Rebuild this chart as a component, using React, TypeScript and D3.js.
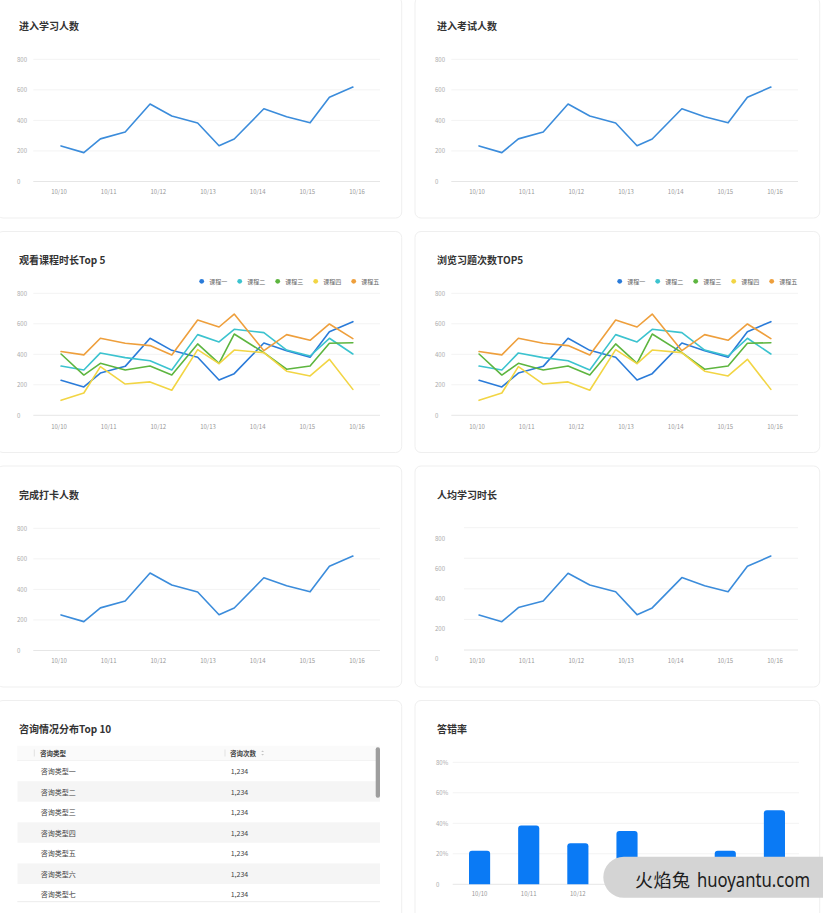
import React from 'react';
import * as d3 from 'd3';

// ---------- data ----------
const pointTimes = [
  '2019-10-10 01:00', '2019-10-10 12:00', '2019-10-10 20:00', '2019-10-11 08:00',
  '2019-10-11 20:00', '2019-10-12 06:30', '2019-10-12 19:00', '2019-10-13 05:20',
  '2019-10-13 12:40', '2019-10-14 03:00', '2019-10-14 14:00', '2019-10-15 01:20',
  '2019-10-15 10:40', '2019-10-15 22:00',
];
const dayTicks = ['2019-10-10', '2019-10-11', '2019-10-12', '2019-10-13', '2019-10-14', '2019-10-15', '2019-10-16'];
const dayLabels = ['10/10', '10/11', '10/12', '10/13', '10/14', '10/15', '10/16'];
const countTicks = [0, 200, 400, 600, 800];
const rateTicks = [0, 20, 40, 60, 80];

const enterStudy = [233, 189, 279, 324, 507, 429, 383, 234, 278, 476, 424, 384, 552, 618];
const enterExam = [233, 189, 279, 324, 507, 429, 383, 234, 278, 476, 424, 384, 552, 618];
const checkIn = [233, 189, 279, 324, 507, 429, 383, 234, 278, 476, 424, 384, 552, 618];
const perCapita = [289, 244, 338, 382, 567, 489, 444, 291, 336, 538, 484, 444, 613, 682];

const courseNames = ['课程一', '课程二', '课程三', '课程四', '课程五'];
const courseColors = ['#2a7bd9', '#3cc3cf', '#5db53f', '#f2d544', '#ee9f3c'];
const course1 = [230, 186, 277, 321, 505, 426, 381, 231, 273, 474, 424, 381, 548, 614];
const course2 = [323, 297, 409, 378, 358, 297, 529, 481, 564, 542, 428, 389, 505, 402];
const course3 = [402, 264, 341, 297, 323, 264, 468, 341, 533, 411, 302, 323, 472, 476];
const course4 = [98, 146, 319, 205, 219, 164, 431, 339, 428, 411, 289, 258, 367, 170];
const course5 = [418, 396, 505, 472, 457, 396, 625, 579, 664, 424, 529, 492, 599, 503];
const courseSeries = [course1, course2, course3, course4, course5];

const errorRates = [22, 38.5, 27, 35, 15, 22, 48.5];

const consultTypes = ['咨询类型一', '咨询类型二', '咨询类型三', '咨询类型四', '咨询类型五', '咨询类型六', '咨询类型七'];
const consultCounts = [1234, 1234, 1234, 1234, 1234, 1234, 1234];

// ---------- layout ----------
const W = 823;
const H = 913;
const COL_STEP = 418;
const ROW_STEP = 234.5;
const FONT = '"Noto Sans CJK SC", "Noto Sans", sans-serif';
const parseTime = d3.timeParse('%Y-%m-%d %H:%M');
const parseDay = d3.timeParse('%Y-%m-%d');
const times = pointTimes.map((t) => parseTime(t) as Date);
const days = dayTicks.map((t) => parseDay(t) as Date);

function Card() {
  return <rect x={-3} y={-3} width={404.7} height={221} rx={6} fill="#fff" stroke="#efefef" strokeWidth={1} />;
}

function Title({ text }: { text: string }) {
  return (
    <text x={19} y={25} dominantBaseline="central" fontSize={10} fontWeight={600} fill="#333" fontFamily={FONT}>
      {text}
    </text>
  );
}

type Series = { name: string; color: string; values: number[] };

function LinePanel(props: {
  col: number; row: number; title: string; series: Series[]; legend?: boolean;
  yRange: [number, number]; gridRange: [number, number]; gridX0: number;
}) {
  const { col, row, title, series, legend, yRange, gridRange, gridX0 } = props;
  const x = d3.scaleTime().domain([days[0], days[6]]).range([59, 357]);
  const y = d3.scaleLinear().domain([0, 800]).range(yRange);
  const yg = d3.scaleLinear().domain([0, 800]).range(gridRange);
  const line = d3.line<number>().x((_, i) => x(times[i])).y((d) => y(d));
  return (
    <g transform={`translate(${col * COL_STEP},${row * ROW_STEP})`}>
      <Card />
      <Title text={title} />
      {countTicks.map((t) => (
        <line key={'g' + t} x1={gridX0} x2={380} y1={yg(t)} y2={yg(t)} stroke={t === 0 ? '#e6e6e6' : '#f3f3f3'} strokeWidth={1} />
      ))}
      {countTicks.map((t) => (
        <text key={'y' + t} x={17} y={y(t)} dominantBaseline="central" fontSize={6} fill="#aaa" fontFamily={FONT}>
          {t}
        </text>
      ))}
      {days.map((d, i) => (
        <text key={'x' + i} x={x(d)} y={191.5} textAnchor="middle" dominantBaseline="central" fontSize={6} fill="#999" fontFamily={FONT}>
          {dayLabels[i]}
        </text>
      ))}
      {series.map((s) => (
        <path key={s.name} d={line(s.values) || ''} fill="none" stroke={s.color} strokeWidth={1.6} strokeLinejoin="round" strokeLinecap="round" />
      ))}
      {legend &&
        series.map((s, i) => (
          <g key={'l' + i} transform={`translate(${201.7 + i * 38},46.8)`}>
            <circle r={2.4} fill={s.color} />
            <text x={7.5} y={0} dominantBaseline="central" fontSize={6} fill="#666" fontFamily={FONT}>
              {s.name}
            </text>
          </g>
        ))}
    </g>
  );
}

function TablePanel({ col, row }: { col: number; row: number }) {
  const rowTop = 57.2;
  const rowH = 20.55;
  const fmt = d3.format(',');
  return (
    <g transform={`translate(${col * COL_STEP},${row * ROW_STEP})`}>
      <Card />
      <Title text="咨询情况分布Top 10" />
      <defs>
        <clipPath id="tbody-clip">
          <rect x={17.3} y={rowTop} width={362.7} height={198.2 - rowTop} />
        </clipPath>
      </defs>
      <rect x={17.3} y={42.2} width={362.7} height={rowTop - 42.2} fill="#fafafa" />
      <line x1={17.3} x2={380} y1={rowTop} y2={rowTop} stroke="#efefef" />
      <line x1={34.3} x2={34.3} y1={46} y2={53} stroke="#e2e2e2" />
      <line x1={225} x2={225} y1={46} y2={53} stroke="#e2e2e2" />
      <text x={40} y={49.5} dominantBaseline="central" fontSize={6.5} fontWeight={600} fill="#444" fontFamily={FONT}>咨询类型</text>
      <text x={230} y={49.5} dominantBaseline="central" fontSize={6.5} fontWeight={600} fill="#444" fontFamily={FONT}>咨询次数</text>
      <path d="M261.2,48.6 L262.6,47 L264,48.6 Z M261.2,50.4 L262.6,52 L264,50.4 Z" fill="#c4c4c4" />
      <g clipPath="url(#tbody-clip)">
        {consultTypes.map((t, i) => (
          <g key={t}>
            <rect x={17.3} y={rowTop + i * rowH} width={362.7} height={rowH} fill={i % 2 === 1 ? '#f5f5f5' : '#fff'} />
            <text x={40.7} y={rowTop + i * rowH + rowH / 2} dominantBaseline="central" fontSize={7} fill="#444" fontFamily={FONT}>{t}</text>
            <text x={230.7} y={rowTop + i * rowH + rowH / 2} dominantBaseline="central" fontSize={7} fill="#444" fontFamily={FONT}>{fmt(consultCounts[i])}</text>
          </g>
        ))}
      </g>
      <line x1={17.3} x2={380} y1={198.2} y2={198.2} stroke="#ececec" />
      <rect x={375.7} y={43.8} width={4.3} height={50.4} rx={2} fill="#9e9e9e" />
    </g>
  );
}

function BarPanel({ col, row }: { col: number; row: number }) {
  const x = d3.scaleBand<string>().domain(dayLabels).range([37, 381]).paddingInner(0.57).paddingOuter(0.285);
  const y = d3.scaleLinear().domain([0, 80]).range([180.8, 58.8]);
  const r = 3;
  return (
    <g transform={`translate(${col * COL_STEP},${row * ROW_STEP})`}>
      <Card />
      <Title text="答错率" />
      {rateTicks.map((t) => (
        <line key={'g' + t} x1={34.7} x2={381} y1={y(t)} y2={y(t)} stroke={t === 0 ? '#e6e6e6' : '#f3f3f3'} />
      ))}
      {rateTicks.map((t) => (
        <text key={'y' + t} x={18} y={y(t)} dominantBaseline="central" fontSize={6} fill="#aaa" fontFamily={FONT}>
          {t === 0 ? '0' : t + '%'}
        </text>
      ))}
      {dayLabels.map((d) => (
        <text key={'x' + d} x={(x(d) as number) + x.bandwidth() / 2} y={189.8} textAnchor="middle" dominantBaseline="central" fontSize={6} fill="#999" fontFamily={FONT}>
          {d}
        </text>
      ))}
      {errorRates.map((v, i) => {
        const x0 = x(dayLabels[i]) as number;
        const w = x.bandwidth();
        const yt = y(v);
        const yb = y(0);
        const d = `M${x0},${yb} V${yt + r} Q${x0},${yt} ${x0 + r},${yt} H${x0 + w - r} Q${x0 + w},${yt} ${x0 + w},${yt + r} V${yb} Z`;
        return <path key={i} d={d} fill="#0a7af5" />;
      })}
    </g>
  );
}

export default function App() {
  React.useEffect(() => {
    document.body.style.margin = '0';
  }, []);
  const single = (vals: number[]): Series[] => [{ name: 'v', color: '#3b8cdb', values: vals }];
  const multi: Series[] = courseNames.map((n, i) => ({ name: n, color: courseColors[i], values: courseSeries[i] }));
  const std: [number, number] = [181.5, 59.3];
  return (
    <svg width={W} height={H} viewBox={`0 0 ${W} ${H}`} style={{ position: 'absolute', left: 0, top: 0, display: 'block' }}>
      <rect x={0} y={0} width={W} height={H} fill="#fff" />
      <LinePanel col={0} row={0} title="进入学习人数" series={single(enterStudy)} yRange={std} gridRange={std} gridX0={33.3} />
      <LinePanel col={1} row={0} title="进入考试人数" series={single(enterExam)} yRange={std} gridRange={std} gridX0={33.3} />
      <LinePanel col={0} row={1} title="观看课程时长Top 5" series={multi} legend yRange={[180.8, 58.8]} gridRange={[180.8, 58.8]} gridX0={33.3} />
      <LinePanel col={1} row={1} title="浏览习题次数TOP5" series={multi} legend yRange={[180.8, 58.8]} gridRange={[180.8, 58.8]} gridX0={33.3} />
      <LinePanel col={0} row={2} title="完成打卡人数" series={single(checkIn)} yRange={std} gridRange={std} gridX0={33.3} />
      <LinePanel col={1} row={2} title="人均学习时长" series={single(perCapita)} yRange={[189.3, 69.3]} gridRange={[181, 58.7]} gridX0={46} />
      <TablePanel col={0} row={3} />
      <BarPanel col={1} row={3} />
      <g>
        <path d="M823,856.7 H623.8 A20.5,20.5 0 0 0 623.8,897.7 H823 Z" fill="#d4d4d4" />
        <text x={635} y={886.5} fontSize={18} fill="#1c1c1c" fontFamily={FONT} textLength={55} lengthAdjust="spacing">火焰兔</text>
        <text x={697} y={886.5} fontSize={19} fill="#1c1c1c" fontFamily={'"Noto Sans", sans-serif'} textLength={113} lengthAdjust="spacingAndGlyphs">huoyantu.com</text>
      </g>
    </svg>
  );
}
